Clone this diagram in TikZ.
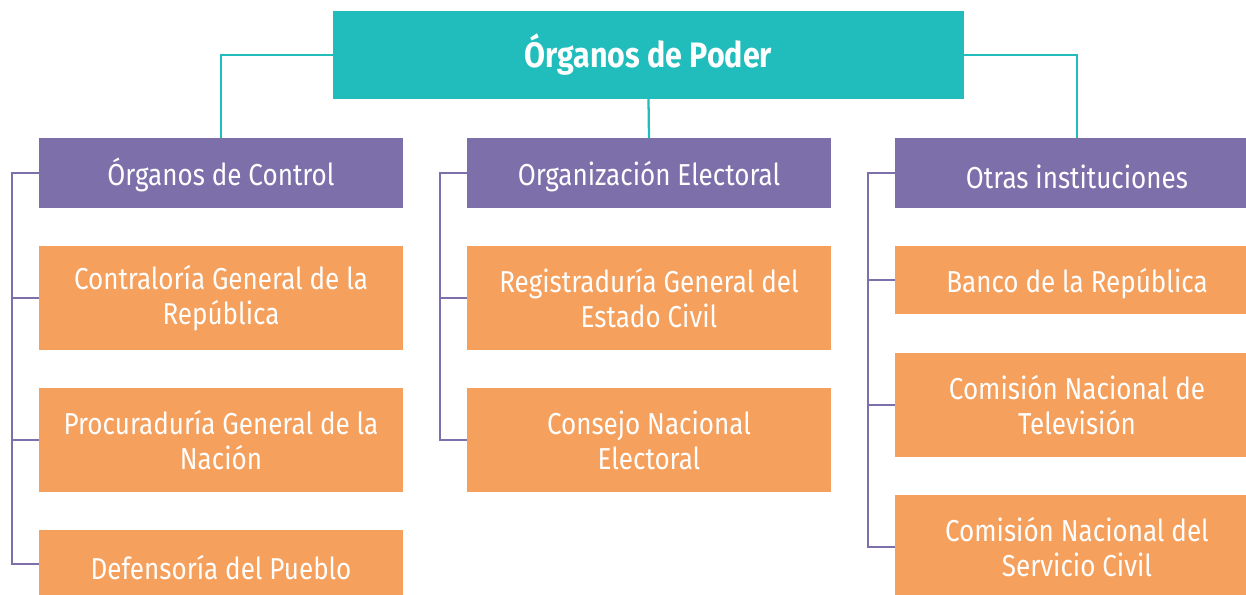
\documentclass[tikz,border=0pt]{standalone}
\usepackage{fontspec}
\setmainfont{Fira Sans}[FakeStretch=0.86]
\usetikzlibrary{calc}
\definecolor{teal1}{HTML}{21BDBC}
\definecolor{purp}{HTML}{7D6FAA}
\definecolor{orng}{HTML}{F5A05C}
\newcommand{\mystrut}{\rule{0pt}{23pt}}
\begin{document}
\begin{tikzpicture}[x=0.75pt,y=-0.75pt,
  box/.style={inner sep=0pt,outer sep=0pt,text=white,align=center,font=\fontsize{22.7}{26.3}\selectfont,execute at begin node=\mystrut},
  topbox/.style={inner sep=0pt,outer sep=0pt,text=white,align=center,fill=teal1,minimum width=473.25pt,minimum height=66pt,font=\fontsize{26.5}{30}\selectfont\bfseries},
  head/.style={box,fill=purp,minimum width=273pt,minimum height=52.5pt},
  two/.style={box,fill=orng,minimum width=273pt,minimum height=78pt},
  one/.style={box,fill=orng,minimum width=273pt,minimum height=51pt},
  tline/.style={draw=teal1,line width=1.7pt},
  pline/.style={draw=purp,line width=1.7pt}]
\useasboundingbox (0,0) rectangle (1246,595);
\clip (0,0) rectangle (1246,595);
\node[topbox] (top) at (648.5,55) {Órganos de Poder};
\node[head] (c1) at (221,173) {Órganos de Control};
\node[head] (c2) at (649,173) {Organización Electoral};
\node[head] (c3) at (1077,173) {Otras instituciones};
\node[two] (c1a) at (221,298) {Contraloría General de la\\República};
\node[two] (c1b) at (221,440) {Procuraduría General de la\\Nación};
\node[one] (c1c) at (221,564) {Defensoría del Pueblo};
\node[two] (c2a) at (649,298) {Registraduría General del\\Estado Civil};
\node[two] (c2b) at (649,440) {Consejo Nacional\\Electoral};
\node[one] (c3a) at (1077,280) {Banco de la República};
\node[two] (c3b) at (1077,405) {Comisión Nacional de\\Televisión};
\node[two] (c3c) at (1077,547) {Comisión Nacional del\\Servicio Civil};
\draw[tline] (top.west) -| (c1.north);
\draw[tline] (top.south) -- (c2.north);
\draw[tline] (top.east) -| (c3.north);
\coordinate (b1) at ($(c1.west)+(-27,0)$);
\coordinate (b2) at ($(c2.west)+(-27,0)$);
\coordinate (b3) at ($(c3.west)+(-27,0)$);
\draw[pline] (c1.west) -- (b1) |- (c1c.west);
\draw[pline] (b1 |- c1a.west) -- (c1a.west);
\draw[pline] (b1 |- c1b.west) -- (c1b.west);
\draw[pline] (c2.west) -- (b2) |- (c2b.west);
\draw[pline] (b2 |- c2a.west) -- (c2a.west);
\draw[pline] (c3.west) -- (b3) |- (c3c.west);
\draw[pline] (b3 |- c3a.west) -- (c3a.west);
\draw[pline] (b3 |- c3b.west) -- (c3b.west);
\end{tikzpicture}
\end{document}
